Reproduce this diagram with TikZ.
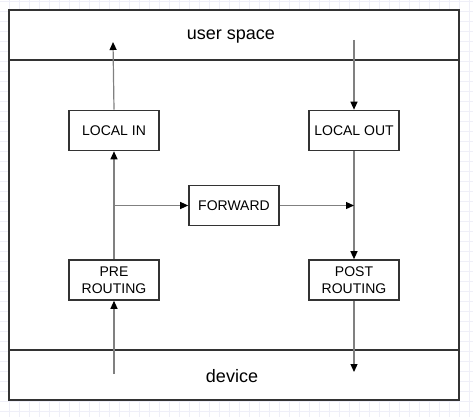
\documentclass[tikz,border=0pt]{standalone}
\usepackage{fontspec}
\setmainfont{Liberation Sans}
\usetikzlibrary{arrows.meta}
\definecolor{frame}{HTML}{333333}
\definecolor{conn}{HTML}{808080}
\definecolor{gridc}{HTML}{EFEFF8}
\begin{document}
\begin{tikzpicture}[x=1pt,y=-1pt,
  blk/.style={draw=frame,line width=1.6pt,fill=white,minimum width=90pt,minimum height=40pt,inner sep=0pt,align=center,font=\fontsize{14}{17}\selectfont,text=black},
  lbl/.style={font=\fontsize{18}{20}\selectfont,text depth=0pt},
  link/.style={draw=conn,line width=1.2pt,-{Triangle[length=8pt,width=7pt,fill=black,color=black]}}]
\useasboundingbox (0,0) rectangle (473,417);
\fill[white] (0,0) rectangle (473,417);
\foreach \i in {0,...,47} {\draw[gridc,line width=0.8pt] (\i*10-1,0) -- (\i*10-1,417);}
\foreach \j in {0,...,41} {\draw[gridc,line width=0.8pt] (0,\j*10+1) -- (473,\j*10+1);}
\draw[frame,line width=1.8pt,fill=white] (9,10) rectangle (459,400);
\draw[frame,line width=1.8pt] (9,60) -- (459,60);
\draw[frame,line width=1.8pt] (9,350) -- (459,350);
\node[lbl] (us) at (231,34.5) {user space};
\node[lbl] (dev) at (232,375.5) {device};
\node[blk] (li) at (114,130.5) {LOCAL IN};
\node[blk] (lo) at (354,130.5) {LOCAL OUT};
\node[blk] (fw) at (234,205.5) {FORWARD};
\node[blk] (pre) at (114,280) {PRE\\ROUTING};
\node[blk] (post) at (354,280) {POST\\ROUTING};
\coordinate (inb) at (114,374);
\coordinate (upt) at (113,42);
\coordinate (dnt) at (354,40);
\coordinate (outb) at (354,372);
\coordinate (split) at (114,205.5);
\coordinate (join) at (354,205.5);
\draw[link] (inb) -- (pre.south);
\draw[link] (pre.north) -- (li.south);
\draw[link] (split) -- (fw.west);
\draw[link] (li.north) -- (upt);
\draw[link] (dnt) -- (lo.north);
\draw[link] (lo.south) -- (post.north);
\draw[link] (fw.east) -- (join);
\draw[link] (post.south) -- (outb);
\end{tikzpicture}
\end{document}
